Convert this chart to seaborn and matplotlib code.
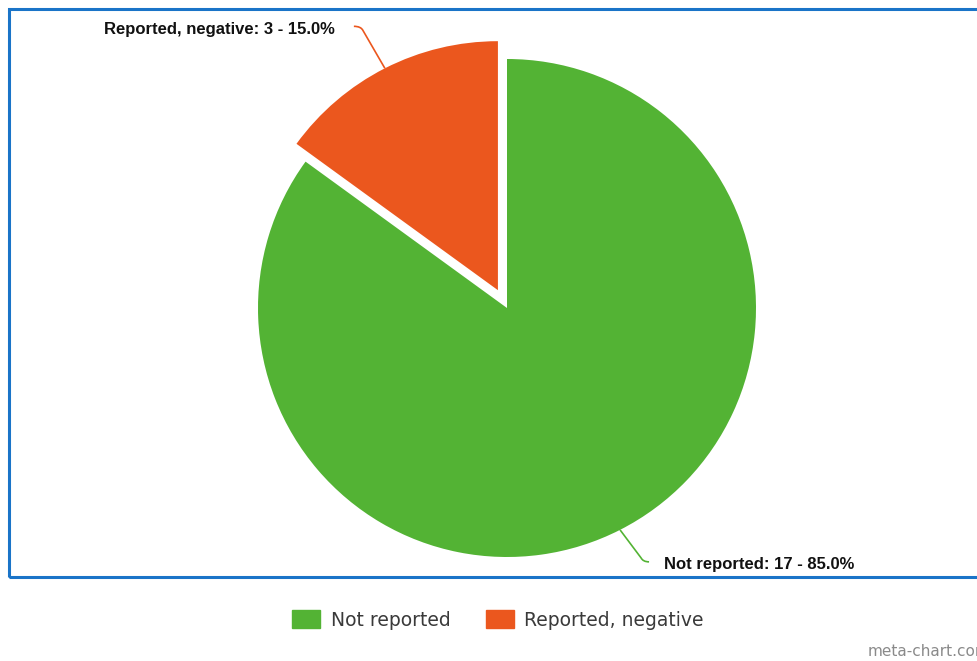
import matplotlib
matplotlib.use("Agg")
import matplotlib.pyplot as plt
from matplotlib.patches import Rectangle, PathPatch
from matplotlib.path import Path
import numpy as np
import seaborn as sns

# Survey outcome counts
categories = ["Not reported", "Reported, negative"]
counts = [17, 3]
colors = ["#53b334", "#eb571e"]
explode_px = [0, 20]

sns.set_theme(style="white")
plt.rcParams["font.family"] = ["Liberation Sans", "DejaVu Sans"]

W, H = 977, 661
fig = plt.figure(figsize=(W / 100, H / 100), dpi=100)
ax = fig.add_axes([0, 0, 1, 1])

cx, cy, r = 507, H - 308, 249
wedges, _ = ax.pie(counts, colors=colors, startangle=90, counterclock=False,
                   explode=explode_px, center=(cx, cy), radius=r,
                   wedgeprops=dict(linewidth=0))
ax.set_xlim(0, W)
ax.set_ylim(0, H)
ax.set_aspect("equal")
ax.axis("off")

total = sum(counts)
labels = [f"{c}: {v} - {v / total * 100:.1f}%" for c, v in zip(categories, counts)]

# Leader geometry per wedge: (run along, rise, hook length, text gap, text shift)
leaders = [(21, 28, 6, 15, -3), (22, 38, 7, 19, -3)]

for w, lab, col, (dx, dy, hook, gap, shift) in zip(wedges, labels, colors, leaders):
    mid = np.deg2rad((w.theta1 + w.theta2) / 2)
    wx, wy = w.center
    ex, ey = wx + r * np.cos(mid), wy + r * np.sin(mid)
    sx = np.sign(np.cos(mid))
    sy = np.sign(np.sin(mid))
    p1 = (ex + sx * dx, ey + sy * dy)
    ctrl = (ex + sx * (dx + 2), ey + sy * (dy + 4))
    p2 = (ex + sx * (dx + 2 + hook), ey + sy * (dy + 4))
    path = Path([(ex, ey), p1, ctrl, p2],
                [Path.MOVETO, Path.LINETO, Path.CURVE3, Path.CURVE3])
    ax.add_patch(PathPatch(path, fill=False, edgecolor=col, lw=1.2))
    ha = "left" if sx > 0 else "right"
    ax.text(p2[0] + sx * gap, p2[1] + shift, lab, ha=ha, va="center",
            fontsize=12, fontweight="bold", color="#111111")

# Plot-area frame (pixel coordinates, origin bottom-left)
fig.patches.append(Rectangle((9, H - 577), W, 568, transform=None, fill=False,
                             edgecolor="#1a74c8", lw=2.2))

handles = [Rectangle((0, 0), 1, 1, facecolor=c, edgecolor=c) for c in colors]
fig.legend(handles, categories, loc="center", ncol=2,
           bbox_to_anchor=(498 / W, 1 - 620 / H), frameon=False,
           prop=dict(family="DejaVu Sans", size=13.5),
           labelcolor="#3a3a3a", handlelength=1.5, handleheight=1.05,
           handletextpad=0.55, columnspacing=1.9)

fig.text(868 / W, 1 - 652 / H, "meta-chart.com", ha="left", va="center",
         fontsize=11, color="#8a8a8a", family="DejaVu Sans")

fig.savefig("out.png", dpi=100)
